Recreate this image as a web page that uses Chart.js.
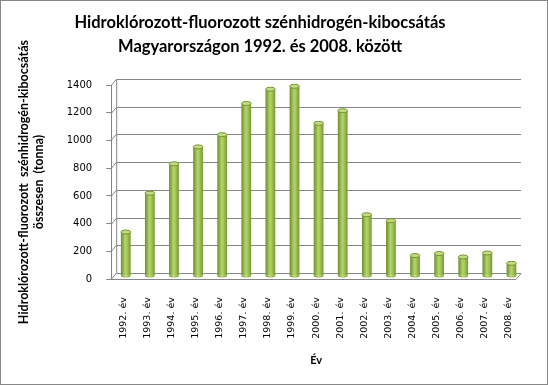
<!DOCTYPE html>
<html>
<head>
<meta charset="UTF-8">
<title>HFC-kibocsátás Magyarországon</title>
<script src="https://cdn.jsdelivr.net/npm/chart.js@4.4.1/dist/chart.umd.min.js"></script>
<style>
html, body { margin: 0; padding: 0; background: #fff; }
#holder { width: 548px; height: 385px; box-sizing: border-box; border: 1px solid #878787; }
</style>
</head>
<body>
<div id="holder"><canvas id="chart-area"></canvas></div>
<script>
// adatok (leolvasva az ábráról)
var evek = ["1992. év", "1993. év", "1994. év", "1995. év", "1996. év", "1997. év", "1998. év", "1999. év",
            "2000. év", "2001. év", "2002. év", "2003. év", "2004. év", "2005. év", "2006. év", "2007. év", "2008. év"];
var kibocsatas = [318, 598, 810, 932, 1020, 1245, 1348, 1369, 1102, 1193, 443, 400, 148, 163, 138, 167, 92];
var yTicks = [0, 200, 400, 600, 800, 1000, 1200, 1400];

var cimSorok = ["Hidroklórozott-fluorozott szénhidrogén-kibocsátás", "Magyarországon 1992. és 2008. között"];
var yCim = ["Hidroklórozott-fluorozott  szénhidrogén-kibocsátás", "összesen  (tonna)"];
var xCim = "Év";

// főcím (kicsit balra a vászon közepétől, mint az eredetin)
var focim = {
    id: 'focim',
    afterDraw: function (chart) {
        var ctx = chart.ctx;
        ctx.save();
        ctx.font = 'bold 16.5px Lato';
        ctx.fillStyle = '#000';
        ctx.textAlign = 'center';
        ctx.textBaseline = 'middle';
        cimSorok.forEach(function (s, i) {
            ctx.fillText(s, chart.width / 2 - 14, 22 + i * 24);
        });
        ctx.restore();
    }
};

// 3D-s hátfal: a rácsvonalak kicsit fentebb és jobbra, bal oldalon ferde összekötővel
var DX = 5, DY = 6;
var hatfal = {
    id: 'hatfal',
    beforeDatasetsDraw: function (chart) {
        var ctx = chart.ctx, a = chart.chartArea, y = chart.scales.y;
        ctx.save();
        ctx.strokeStyle = '#868686';
        ctx.lineWidth = 1;
        y.ticks.forEach(function (t) {
            var py = Math.round(y.getPixelForValue(t.value)) + 0.5;
            ctx.beginPath();
            ctx.moveTo(a.left, py);
            ctx.lineTo(a.left + DX, py - DY);
            ctx.lineTo(a.right, py - DY);
            ctx.stroke();
        });
        var pb = Math.round(y.getPixelForValue(0)) + 0.5;
        ctx.beginPath();
        ctx.moveTo(a.left, pb);
        ctx.lineTo(a.right - DX, pb);
        ctx.lineTo(a.right, pb - DY);
        ctx.stroke();
        ctx.beginPath();
        ctx.moveTo(a.left + DX + 0.5, y.getPixelForValue(0) - DY);
        ctx.lineTo(a.left + DX + 0.5, y.getPixelForValue(1400) - DY);
        ctx.stroke();
        ctx.restore();
    }
};

// henger kinézet: színátmenet + ellipszis a tetején, a mélység felénél
var henger = {
    id: 'henger',
    afterDatasetsDraw: function (chart) {
        var ctx = chart.ctx, ox = DX / 2, oy = -DY / 2;
        chart.getDatasetMeta(0).data.forEach(function (bar) {
            var w = bar.width, cx = bar.x + ox, x0 = cx - w / 2;
            var top = bar.y + oy, base = bar.base + oy;
            var g = ctx.createLinearGradient(x0, 0, x0 + w, 0);
            g.addColorStop(0, '#6e8c2c');
            g.addColorStop(0.45, '#b4d46b');
            g.addColorStop(0.6, '#a9cb5e');
            g.addColorStop(1, '#78972f');
            ctx.save();
            ctx.fillStyle = g;
            ctx.fillRect(x0, top, w, base - top);
            ctx.beginPath();
            ctx.ellipse(cx, base, w / 2, 2, 0, 0, Math.PI);
            ctx.fill();
            ctx.beginPath();
            ctx.ellipse(cx, top, w / 2, 2, 0, 0, Math.PI * 2);
            ctx.fillStyle = '#c2dc88';
            ctx.fill();
            ctx.strokeStyle = '#76942f';
            ctx.lineWidth = 1;
            ctx.stroke();
            ctx.restore();
        });
    }
};

var config = {
    type: 'bar',
    data: {
        labels: evek,
        datasets: [{
            data: kibocsatas,
            backgroundColor: 'rgba(0,0,0,0)',
            barPercentage: 0.46,
            categoryPercentage: 0.88
        }]
    },
    options: {
        responsive: true,
        maintainAspectRatio: false,
        animation: false,
        layout: { padding: { left: 12, right: 26, top: 84, bottom: 13 } },
        plugins: {
            legend: { display: false },
            tooltip: { enabled: false },
            title: { display: false }
        },
        scales: {
            x: {
                grid: { display: false },
                border: { display: false },
                ticks: {
                    color: '#000',
                    font: { family: 'DejaVu Sans', size: 9.5 },
                    minRotation: 90, maxRotation: 90,
                    padding: 10
                },
                title: {
                    display: true, text: xCim, color: '#000',
                    font: { family: 'Lato', size: 11, weight: 'bold' },
                    padding: { top: 5 }
                }
            },
            y: {
                min: 0, max: 1400,
                afterBuildTicks: function (axis) {
                    axis.ticks = yTicks.map(function (v) { return { value: v }; });
                },
                grid: { drawOnChartArea: false, color: '#868686', tickLength: 5 },
                border: { color: '#868686' },
                ticks: {
                    color: '#000',
                    font: { family: 'DejaVu Sans', size: 10 },
                    padding: 14,
                    callback: function (v) { return String(v); }
                },
                title: {
                    display: true, text: yCim, color: '#000',
                    font: { family: 'Lato', size: 12.5, weight: 'bold', lineHeight: 1.15 },
                    padding: { bottom: 7 }
                }
            }
        }
    },
    plugins: [hatfal, henger, focim]
};

var ctx = document.getElementById("chart-area").getContext("2d");
window.myBar = new Chart(ctx, config);
</script>
</body>
</html>
